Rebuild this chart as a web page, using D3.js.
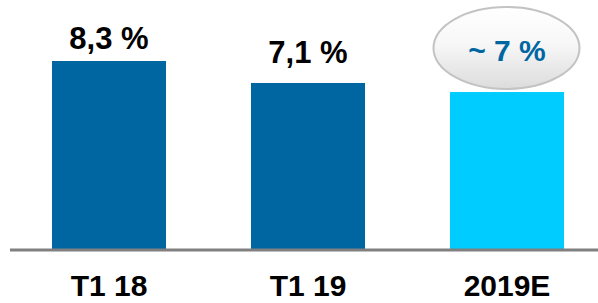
<!DOCTYPE html>
<html>
<head>
<meta charset="utf-8">
<script src="https://cdn.jsdelivr.net/npm/d3@7"></script>
<style>
  body { margin: 0; background: #fff; }
  svg { display: block; font-family: Arial, "Liberation Sans", sans-serif; }
</style>
</head>
<body>
<div id="chart"></div>
<script>
// data
var categories = ["T1 18", "T1 19", "2019E"];
var values = [8.3, 7.33, 6.93];
var valueLabels = ["8,3 %", "7,1 %", "~ 7 %"];
var isEstimate = [false, false, true];

var svgWidth = 598;
var svgHeight = 303;
var baseY = 249;

var svg = d3.select("#chart")
  .append("svg")
  .attr("width", svgWidth)
  .attr("height", svgHeight);

var defs = svg.append("defs");
var grad = defs.append("linearGradient")
  .attr("id", "bubble")
  .attr("x1", 0).attr("y1", 0)
  .attr("x2", 0).attr("y2", 1);
grad.append("stop").attr("offset", "0%").attr("stop-color", "#ffffff");
grad.append("stop").attr("offset", "45%").attr("stop-color", "#f7f7f7");
grad.append("stop").attr("offset", "100%").attr("stop-color", "#dcdcdc");

var x = d3.scaleBand()
  .domain(categories)
  .range([9.5, 606.5])
  .paddingInner(0.427)
  .paddingOuter(0.2135);

var y = d3.scaleLinear()
  .domain([0, 8.3])
  .range([baseY, 61]);

// bars
svg.selectAll("rect.bar")
  .data(categories)
  .enter()
  .append("rect")
  .attr("class", "bar")
  .attr("x", function(d) { return x(d); })
  .attr("y", function(d, i) { return y(values[i]); })
  .attr("width", x.bandwidth())
  .attr("height", function(d, i) { return baseY - y(values[i]); })
  .attr("fill", function(d, i) { return isEstimate[i] ? "#00ccff" : "#0066a2"; });

// baseline
svg.append("line")
  .attr("x1", 10)
  .attr("x2", svgWidth)
  .attr("y1", baseY + 1)
  .attr("y2", baseY + 1)
  .attr("stroke", "#808080")
  .attr("stroke-width", 3);

// category labels
svg.selectAll("text.cat")
  .data(categories)
  .enter()
  .append("text")
  .attr("class", "cat")
  .attr("x", function(d) { return x(d) + x.bandwidth() / 2; })
  .attr("y", 296)
  .attr("text-anchor", "middle")
  .attr("font-size", 30)
  .attr("font-weight", "bold")
  .attr("fill", "#000")
  .text(function(d) { return d; });

// value labels
categories.forEach(function(c, i) {
  var cx = x(c) + x.bandwidth() / 2;
  if (isEstimate[i]) {
    svg.append("ellipse")
      .attr("cx", cx - 0.5)
      .attr("cy", 48)
      .attr("rx", 73)
      .attr("ry", 41)
      .attr("fill", "url(#bubble)")
      .attr("stroke", "#c3c3c3")
      .attr("stroke-width", 2);
    svg.append("text")
      .attr("x", cx)
      .attr("y", 61)
      .attr("text-anchor", "middle")
      .attr("font-size", 30)
      .attr("font-weight", "bold")
      .attr("fill", "#0066a2")
      .text(valueLabels[i]);
  } else {
    svg.append("text")
      .attr("x", cx)
      .attr("y", y(values[i]) - (i === 0 ? 12 : 20))
      .attr("text-anchor", "middle")
      .attr("font-size", 31)
      .attr("font-weight", "bold")
      .attr("fill", "#000")
      .text(valueLabels[i]);
  }
});
</script>
</body>
</html>
